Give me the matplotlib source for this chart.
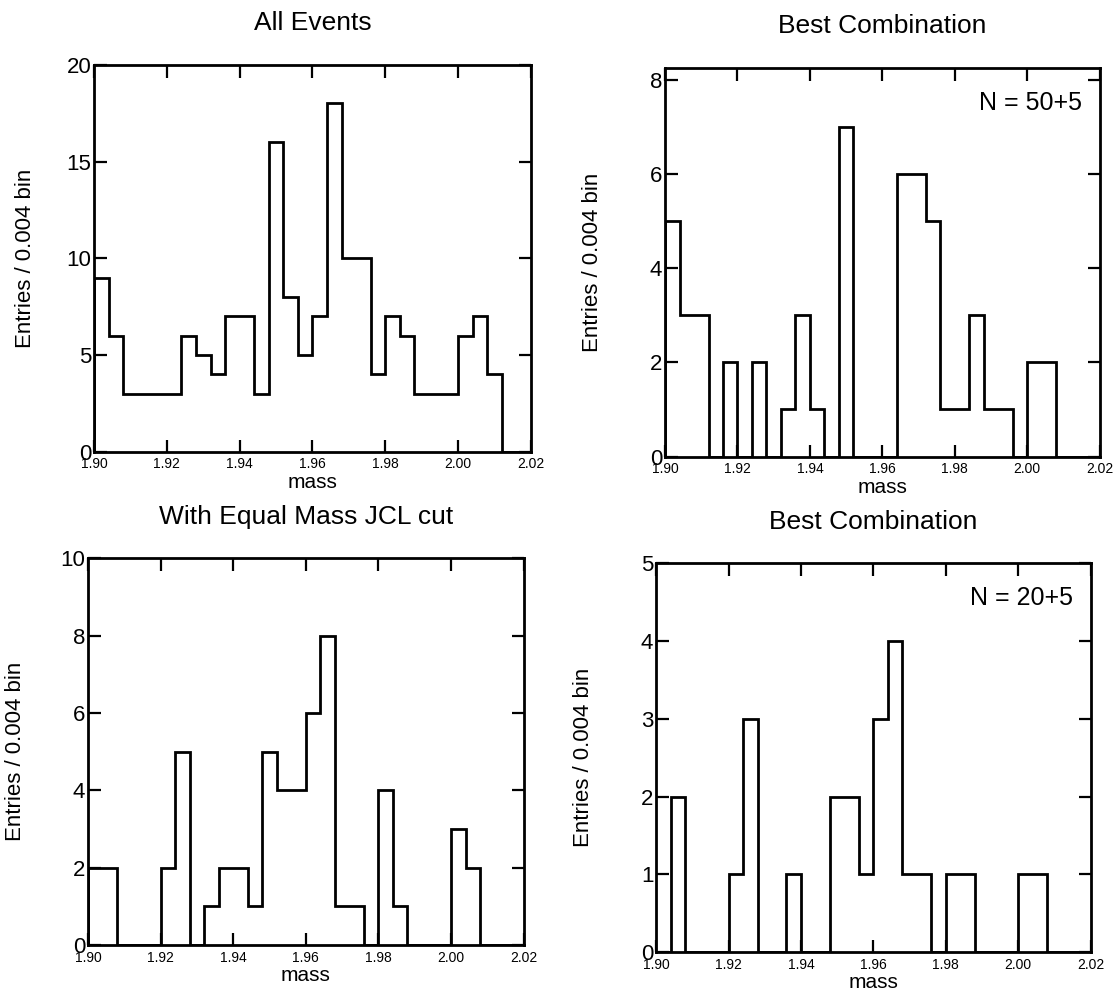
"""Mass histograms: all events, best combination, equal mass JCL cut."""

import numpy as np
import matplotlib
matplotlib.use('Agg')
import matplotlib.pyplot as plt

plt.rcParams['font.family'] = ['Liberation Sans', 'DejaVu Sans']

# 30 bins of 0.004 from 1.90 to 2.02
bin_lo, bin_hi, bin_w = 1.90, 2.02, 0.004

all_events = [9, 6, 3, 3, 3, 3, 6, 5, 4, 7, 7, 3, 16, 8, 5, 7, 18, 10, 10, 4,
              7, 6, 3, 3, 3, 6, 7, 4, 0, 0]
best_50 = [5, 3, 3, 0, 2, 0, 2, 0, 1, 3, 1, 0, 7, 0, 0, 0, 6, 6, 5, 1,
           1, 3, 1, 1, 0, 2, 2, 0, 0, 0]
jcl_cut = [2, 2, 0, 0, 0, 2, 5, 0, 1, 2, 2, 1, 5, 4, 4, 6, 8, 1, 1, 0,
           4, 1, 0, 0, 0, 3, 2, 0, 0, 0]
best_20 = [0, 2, 0, 0, 0, 1, 3, 0, 0, 1, 0, 0, 2, 2, 1, 3, 4, 1, 1, 0,
           1, 1, 0, 0, 0, 1, 1, 0, 0, 0]

x_ticks = [1.90, 1.92, 1.94, 1.96, 1.98, 2.00, 2.02]

panels = [
    # counts, title, ymax, ystep, note, axes rect, ylabel x
    (all_events, 'All Events', 20, 5, None,
     [0.0845, 0.547, 0.392, 0.388], -0.134),
    (best_50, 'Best Combination', 8.25, 2, 'N = 50+5',
     [0.597, 0.542, 0.390, 0.390], -0.143),
    (jcl_cut, 'With Equal Mass JCL cut', 10, 2, None,
     [0.079, 0.052, 0.391, 0.388], -0.142),
    (best_20, 'Best Combination', 5, 1, 'N = 20+5',
     [0.589, 0.045, 0.390, 0.390], -0.143),
]


def main():
    fig = plt.figure(figsize=(11.14, 9.97), dpi=100)
    edges = np.arange(len(all_events) + 1) * bin_w + bin_lo

    for counts, title, ymax, ystep, note, rect, ylab_x in panels:
        ax = fig.add_axes(rect)
        ax.stairs(counts, edges, baseline=0, color='black', linewidth=2.0)
        ax.set_xlim(bin_lo, bin_hi)
        ax.set_ylim(0, ymax)
        ax.set_xticks(x_ticks)
        ax.set_xticklabels(['%.2f' % t for t in x_ticks], fontsize=10)
        ax.set_yticks(np.arange(0, ymax + 0.01, ystep))
        ax.yaxis.set_major_formatter(plt.FormatStrFormatter('%d'))
        ax.tick_params(axis='y', labelsize=16, pad=2)
        ax.tick_params(direction='in', length=9, width=1.6,
                       top=True, right=True, color='black')
        ax.tick_params(axis='x', pad=4)
        for sp in ax.spines.values():
            sp.set_linewidth(2.0)
        ax.set_title(title, fontsize=19, pad=25)
        ax.set_xlabel('mass', fontsize=15, labelpad=1)
        ax.set_ylabel('Entries / 0.004 bin', fontsize=16)
        ax.yaxis.set_label_coords(ylab_x, 0.5)
        if note:
            ax.text(0.84, 0.91, note, transform=ax.transAxes,
                    fontsize=18, ha='center', va='center')

    fig.savefig('out.png', dpi=100)


if __name__ == '__main__':
    main()
